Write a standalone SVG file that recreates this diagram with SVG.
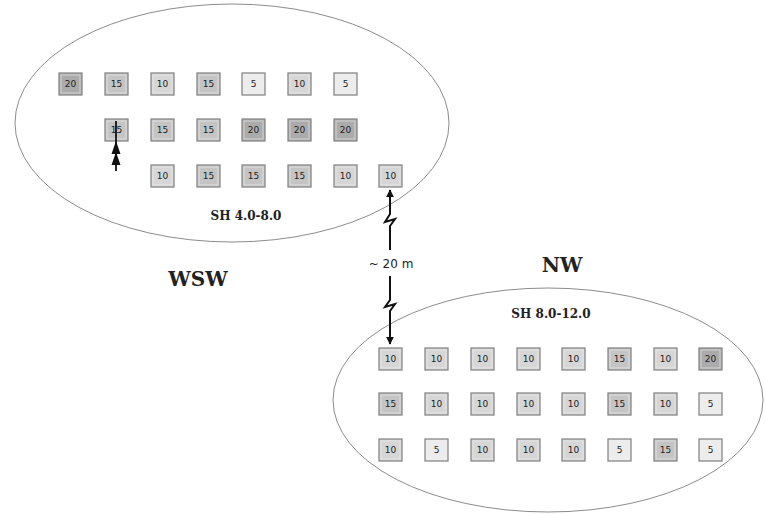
<svg xmlns="http://www.w3.org/2000/svg" width="765" height="514" viewBox="0 0 765 514">
  <style>
    .zone { fill: none; stroke: #8c8c8c; stroke-width: 1; }
    .box { stroke: #888; stroke-width: 1.3; }
    .inner { fill: none; stroke: #f0f0f0; stroke-width: 1; opacity: 0.6; }
    .v20 { fill: #ababab; }
    .v15 { fill: #c4c4c4; }
    .v10 { fill: #d6d6d6; }
    .v5 { fill: #ececec; }
    .num { font-family: "DejaVu Sans", sans-serif; font-size: 9px; fill: #222; text-anchor: middle; }
    .zlabel { font-family: "DejaVu Serif", serif; font-weight: bold; font-size: 12px; fill: #222; text-anchor: middle; }
    .dir { font-family: "DejaVu Serif", serif; font-weight: bold; font-size: 20px; fill: #222; text-anchor: middle; }
    .dist { font-family: "DejaVu Sans", sans-serif; font-size: 12px; fill: #222; text-anchor: middle; }
    .link { fill: none; stroke: #111; stroke-width: 2; }
    .tip { fill: #111; }
  </style>
  <defs>
    <marker id="head" viewBox="0 0 10 10" refX="9" refY="5" markerWidth="4" markerHeight="4" orient="auto">
      <path d="M0,0 L10,5 L0,10 z" fill="#111"/>
    </marker>
    <g id="tile">
      <rect class="inner" x="2" y="2" width="19" height="18"/>
    </g>
  </defs>
  <rect width="765" height="514" fill="#fff"/>

  <!-- sampling zones -->
  <g id="zone-wsw">
    <ellipse class="zone" cx="232" cy="123" rx="217" ry="119"/>
    <text class="zlabel" x="246" y="220">SH 4.0-8.0</text>
  </g>
  <g id="zone-nw">
    <ellipse class="zone" cx="548" cy="400" rx="215" ry="112"/>
    <text class="zlabel" x="551" y="318">SH 8.0-12.0</text>
  </g>
  <g id="label-wsw"><text class="dir" x="198" y="286">WSW</text></g>
  <g id="label-nw"><text class="dir" x="562" y="272">NW</text></g>

  <!-- upper zone plots -->
  <g id="u1-1"><rect class="box v20" x="59" y="73" width="23" height="22"/><use href="#tile" x="59" y="73"/><text class="num" x="70.5" y="87">20</text></g>
  <g id="u1-2"><rect class="box v15" x="105" y="73" width="23" height="22"/><use href="#tile" x="105" y="73"/><text class="num" x="116.5" y="87">15</text></g>
  <g id="u1-3"><rect class="box v10" x="151" y="73" width="23" height="22"/><use href="#tile" x="151" y="73"/><text class="num" x="162.5" y="87">10</text></g>
  <g id="u1-4"><rect class="box v15" x="197" y="73" width="23" height="22"/><use href="#tile" x="197" y="73"/><text class="num" x="208.5" y="87">15</text></g>
  <g id="u1-5"><rect class="box v5" x="242" y="73" width="23" height="22"/><use href="#tile" x="242" y="73"/><text class="num" x="253.5" y="87">5</text></g>
  <g id="u1-6"><rect class="box v10" x="288" y="73" width="23" height="22"/><use href="#tile" x="288" y="73"/><text class="num" x="299.5" y="87">10</text></g>
  <g id="u1-7"><rect class="box v5" x="334" y="73" width="23" height="22"/><use href="#tile" x="334" y="73"/><text class="num" x="345.5" y="87">5</text></g>

  <g id="u2-1"><rect class="box v15" x="105" y="119" width="23" height="22"/><use href="#tile" x="105" y="119"/><text class="num" x="116.5" y="133">15</text></g>
  <g id="u2-2"><rect class="box v15" x="151" y="119" width="23" height="22"/><use href="#tile" x="151" y="119"/><text class="num" x="162.5" y="133">15</text></g>
  <g id="u2-3"><rect class="box v15" x="197" y="119" width="23" height="22"/><use href="#tile" x="197" y="119"/><text class="num" x="208.5" y="133">15</text></g>
  <g id="u2-4"><rect class="box v20" x="242" y="119" width="23" height="22"/><use href="#tile" x="242" y="119"/><text class="num" x="253.5" y="133">20</text></g>
  <g id="u2-5"><rect class="box v20" x="288" y="119" width="23" height="22"/><use href="#tile" x="288" y="119"/><text class="num" x="299.5" y="133">20</text></g>
  <g id="u2-6"><rect class="box v20" x="334" y="119" width="23" height="22"/><use href="#tile" x="334" y="119"/><text class="num" x="345.5" y="133">20</text></g>

  <g id="u3-1"><rect class="box v10" x="151" y="165" width="23" height="22"/><use href="#tile" x="151" y="165"/><text class="num" x="162.5" y="179">10</text></g>
  <g id="u3-2"><rect class="box v15" x="197" y="165" width="23" height="22"/><use href="#tile" x="197" y="165"/><text class="num" x="208.5" y="179">15</text></g>
  <g id="u3-3"><rect class="box v15" x="242" y="165" width="23" height="22"/><use href="#tile" x="242" y="165"/><text class="num" x="253.5" y="179">15</text></g>
  <g id="u3-4"><rect class="box v15" x="288" y="165" width="23" height="22"/><use href="#tile" x="288" y="165"/><text class="num" x="299.5" y="179">15</text></g>
  <g id="u3-5"><rect class="box v10" x="334" y="165" width="23" height="22"/><use href="#tile" x="334" y="165"/><text class="num" x="345.5" y="179">10</text></g>
  <g id="u3-6"><rect class="box v10" x="379" y="165" width="23" height="22"/><use href="#tile" x="379" y="165"/><text class="num" x="390.5" y="179">10</text></g>

  <!-- lower zone plots -->
  <g id="l1-1"><rect class="box v10" x="379" y="348" width="23" height="22"/><use href="#tile" x="379" y="348"/><text class="num" x="390.5" y="362">10</text></g>
  <g id="l1-2"><rect class="box v10" x="425" y="348" width="23" height="22"/><use href="#tile" x="425" y="348"/><text class="num" x="436.5" y="362">10</text></g>
  <g id="l1-3"><rect class="box v10" x="471" y="348" width="23" height="22"/><use href="#tile" x="471" y="348"/><text class="num" x="482.5" y="362">10</text></g>
  <g id="l1-4"><rect class="box v10" x="517" y="348" width="23" height="22"/><use href="#tile" x="517" y="348"/><text class="num" x="528.5" y="362">10</text></g>
  <g id="l1-5"><rect class="box v10" x="562" y="348" width="23" height="22"/><use href="#tile" x="562" y="348"/><text class="num" x="573.5" y="362">10</text></g>
  <g id="l1-6"><rect class="box v15" x="608" y="348" width="23" height="22"/><use href="#tile" x="608" y="348"/><text class="num" x="619.5" y="362">15</text></g>
  <g id="l1-7"><rect class="box v10" x="654" y="348" width="23" height="22"/><use href="#tile" x="654" y="348"/><text class="num" x="665.5" y="362">10</text></g>
  <g id="l1-8"><rect class="box v20" x="699" y="348" width="23" height="22"/><use href="#tile" x="699" y="348"/><text class="num" x="710.5" y="362">20</text></g>

  <g id="l2-1"><rect class="box v15" x="379" y="393" width="23" height="22"/><use href="#tile" x="379" y="393"/><text class="num" x="390.5" y="407">15</text></g>
  <g id="l2-2"><rect class="box v10" x="425" y="393" width="23" height="22"/><use href="#tile" x="425" y="393"/><text class="num" x="436.5" y="407">10</text></g>
  <g id="l2-3"><rect class="box v10" x="471" y="393" width="23" height="22"/><use href="#tile" x="471" y="393"/><text class="num" x="482.5" y="407">10</text></g>
  <g id="l2-4"><rect class="box v10" x="517" y="393" width="23" height="22"/><use href="#tile" x="517" y="393"/><text class="num" x="528.5" y="407">10</text></g>
  <g id="l2-5"><rect class="box v10" x="562" y="393" width="23" height="22"/><use href="#tile" x="562" y="393"/><text class="num" x="573.5" y="407">10</text></g>
  <g id="l2-6"><rect class="box v15" x="608" y="393" width="23" height="22"/><use href="#tile" x="608" y="393"/><text class="num" x="619.5" y="407">15</text></g>
  <g id="l2-7"><rect class="box v10" x="654" y="393" width="23" height="22"/><use href="#tile" x="654" y="393"/><text class="num" x="665.5" y="407">10</text></g>
  <g id="l2-8"><rect class="box v5" x="699" y="393" width="23" height="22"/><use href="#tile" x="699" y="393"/><text class="num" x="710.5" y="407">5</text></g>

  <g id="l3-1"><rect class="box v10" x="379" y="439" width="23" height="22"/><use href="#tile" x="379" y="439"/><text class="num" x="390.5" y="453">10</text></g>
  <g id="l3-2"><rect class="box v5" x="425" y="439" width="23" height="22"/><use href="#tile" x="425" y="439"/><text class="num" x="436.5" y="453">5</text></g>
  <g id="l3-3"><rect class="box v10" x="471" y="439" width="23" height="22"/><use href="#tile" x="471" y="439"/><text class="num" x="482.5" y="453">10</text></g>
  <g id="l3-4"><rect class="box v10" x="517" y="439" width="23" height="22"/><use href="#tile" x="517" y="439"/><text class="num" x="528.5" y="453">10</text></g>
  <g id="l3-5"><rect class="box v10" x="562" y="439" width="23" height="22"/><use href="#tile" x="562" y="439"/><text class="num" x="573.5" y="453">10</text></g>
  <g id="l3-6"><rect class="box v5" x="608" y="439" width="23" height="22"/><use href="#tile" x="608" y="439"/><text class="num" x="619.5" y="453">5</text></g>
  <g id="l3-7"><rect class="box v15" x="654" y="439" width="23" height="22"/><use href="#tile" x="654" y="439"/><text class="num" x="665.5" y="453">15</text></g>
  <g id="l3-8"><rect class="box v5" x="699" y="439" width="23" height="22"/><use href="#tile" x="699" y="439"/><text class="num" x="710.5" y="453">5</text></g>

  <!-- connectors -->
  <g id="connectors">
    <path class="link" d="M390,250 V226 L395,219 L385,222 L390,214 V190" marker-end="url(#head)"/>
    <path class="link" d="M390,276 V300 L385,307 L395,304 L390,311 V344" marker-end="url(#head)"/>
    <text class="dist" x="391" y="268">~ 20 m</text>
    <!-- stacked double head on the short pointer -->
    <path class="link" d="M116,171 V121" style="stroke-width:1.8"/>
    <path class="tip" d="M111.5,154 L116,141 L120.5,154 z"/>
    <path class="tip" d="M111.5,165 L116,152 L120.5,165 z"/>
  </g>
</svg>
